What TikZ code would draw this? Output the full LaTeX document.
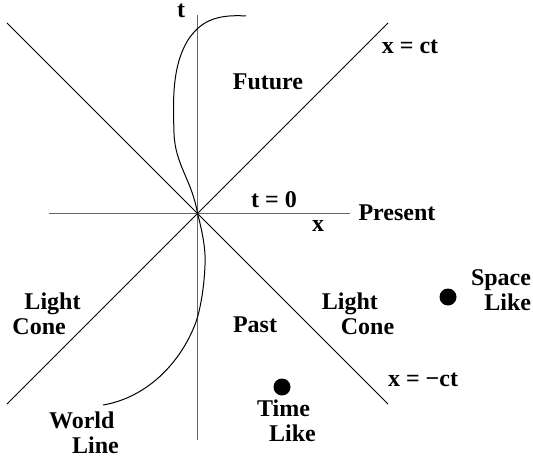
\documentclass[tikz,border=0pt]{standalone}
\usepackage{fontspec}
\setmainfont{Liberation Serif}
\usetikzlibrary{positioning}

\begin{document}
\begin{tikzpicture}[x=1pt, y=-1pt,
  lbl/.style    = {font=\fontsize{24}{25}\selectfont\bfseries,
                   inner sep=0pt, align=center},
  axisline/.style = {draw=black!60, line width=1.4pt},
  coneline/.style = {draw=black, line width=1pt},
  worldline/.style = {draw=black, line width=1pt},
  event/.style  = {circle, fill=black, minimum size=17pt, inner sep=0pt},
]
\useasboundingbox (0,0) rectangle (533,460);

%%═══════════════════════════════════════════════════════════
%% Axes and light cone
%%═══════════════════════════════════════════════════════════

\coordinate (origin) at (197.5,213.5);
\coordinate (ttop)   at (197.5,15);
\coordinate (tbot)   at (197.5,440);
\coordinate (xleft)  at (49,213.5);
\coordinate (xright) at (350,213.5);
\coordinate (ne) at (388,23);
\coordinate (sw) at (7,404);
\coordinate (nw) at (7,23);
\coordinate (se) at (388,404);

\draw[coneline] (sw) -- (ne);
\draw[coneline] (nw) -- (se);
\draw[axisline] (tbot) -- (ttop);
\draw[axisline] (xleft) -- (xright);

%%═══════════════════════════════════════════════════════════
%% World line
%%═══════════════════════════════════════════════════════════

\draw[worldline] (246,16) .. controls (215,14) and (200,22) .. (188,40)
  .. controls (172,66) and (173,100) .. (174,133)
  .. controls (175,165) and (192,180) .. (origin)
  .. controls (202,230) and (206,250) .. (205,265)
  .. controls (204,290) and (200,310) .. (196,322)
  .. controls (180,365) and (145,398) .. (103,405);

%%═══════════════════════════════════════════════════════════
%% Events
%%═══════════════════════════════════════════════════════════

\node[event] (spaceev) at (448,297) {};
\node[event] (timeev)  at (282,387) {};

%%═══════════════════════════════════════════════════════════
%% Labels
%%═══════════════════════════════════════════════════════════

\node[lbl] (tlbl)       at (181,11)  {t};
\node[lbl] (ctlbl)      at (410,47)  {x = ct};
\node[lbl] (futurelbl)  at (268,82)  {Future};
\node[lbl] (t0lbl)      at (274,200) {t = 0};
\node[lbl] (xlbl)       at (318,226) {x};
\node[lbl] (presentlbl) at (397,213) {Present};
\node[lbl, align=left] (leftcone) at (46.5,314)
  {\hspace*{12pt}Light\\Cone};
\node[lbl] (pastlbl)    at (255,325) {Past};
\node[lbl, align=left] (rightcone) at (358,314)
  {Light\\\hspace*{19pt}Cone};
\node[lbl, align=right] (spacelbl) at (501,290) {Space\\Like};
\node[lbl] (mctlbl)     at (423,380) {x = −ct};
\node[lbl, align=left] (timelbl) at (286.5,421)
  {Time\\\hspace*{12pt}Like};
\node[lbl, align=left] (worldlbl) at (84,433)
  {World\\\hspace*{23pt}Line};

\end{tikzpicture}
\end{document}
